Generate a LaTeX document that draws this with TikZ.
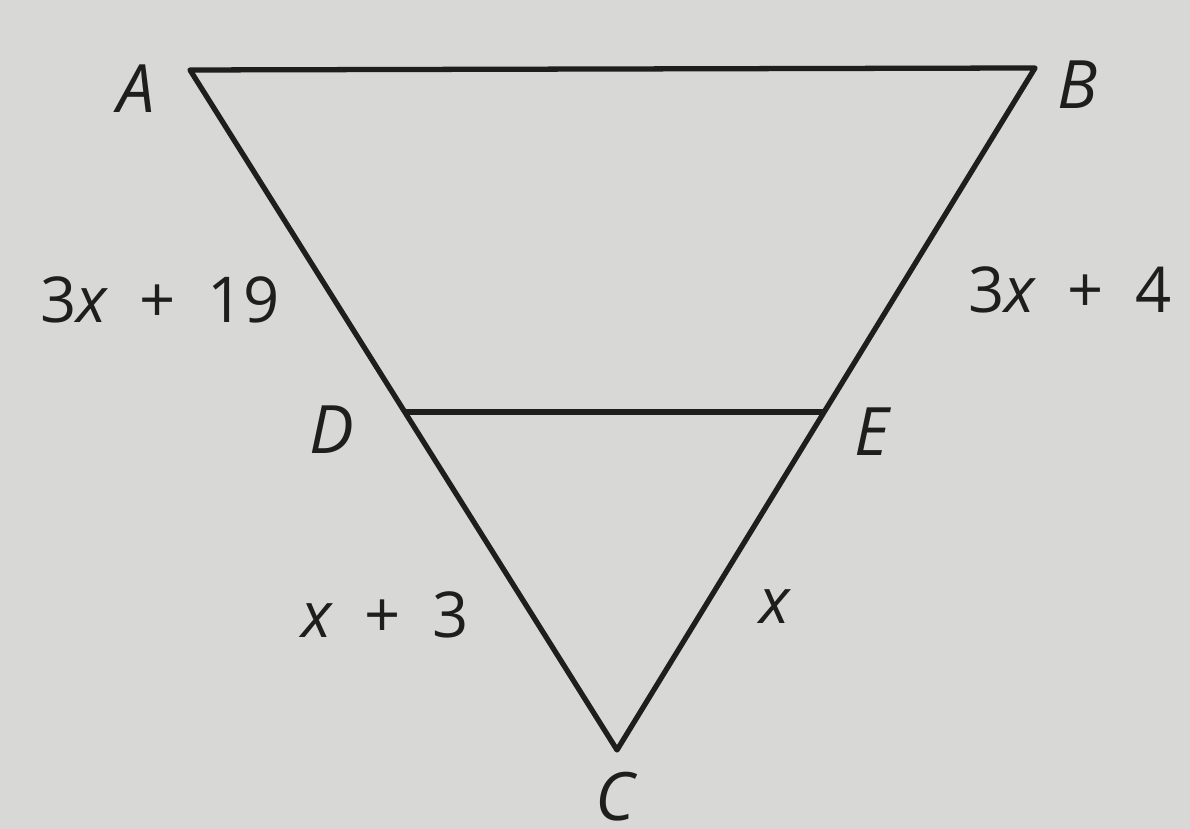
\documentclass[tikz,border=0pt]{standalone}
\usepackage{fontspec}
\setmainfont{Open Sans}
\usetikzlibrary{positioning}
\definecolor{paper}{RGB}{216,216,214}
\definecolor{ink}{RGB}{30,30,30}
\newcommand{\pl}{\hspace{0.5em}+\hspace{0.5em}}

\begin{document}
\begin{tikzpicture}[font=\fontsize{18}{20}\selectfont, x=1cm, y=1cm,
  side/.style={draw=ink, line width=1.5pt, line join=round},
  vlabel/.style={text=ink, inner sep=0pt, font=\fontsize{19}{20}\selectfont\itshape},
  slabel/.style={text=ink, inner sep=0pt}]
  \fill[paper] (0,0) rectangle (11.90,8.29);
  \useasboundingbox (0,0) rectangle (11.90,8.29);
  % corners of the triangle
  \coordinate (A) at (1.90,7.59);
  \coordinate (B) at (10.35,7.61);
  \coordinate (C) at (6.17,0.79);
  \coordinate (D) at (4.05,4.17);
  \coordinate (E) at (8.25,4.17);
  \draw[side] (A) -- (B) -- (C) -- cycle;
  \draw[side] (D) -- (E);
  % vertex letters
  \node[vlabel] (la) at (1.36,7.40) {A};
  \node[vlabel] (lb) at (10.78,7.44) {B};
  \node[vlabel] (ld) at (3.32,3.99) {D};
  \node[vlabel] (le) at (8.72,3.97) {E};
  \node[vlabel] (lc) at (6.15,0.32) {C};
  % side lengths
  \node[slabel] (ad) at (1.60,5.29) {3\textit{x}\pl19};
  \node[slabel] (be) at (10.70,5.39) {3\textit{x}\pl4};
  \node[slabel] (dc) at (3.85,2.14) {\textit{x}\pl3};
  \node[slabel] (ec) at (7.75,2.22) {\textit{x}};
\end{tikzpicture}
\end{document}
